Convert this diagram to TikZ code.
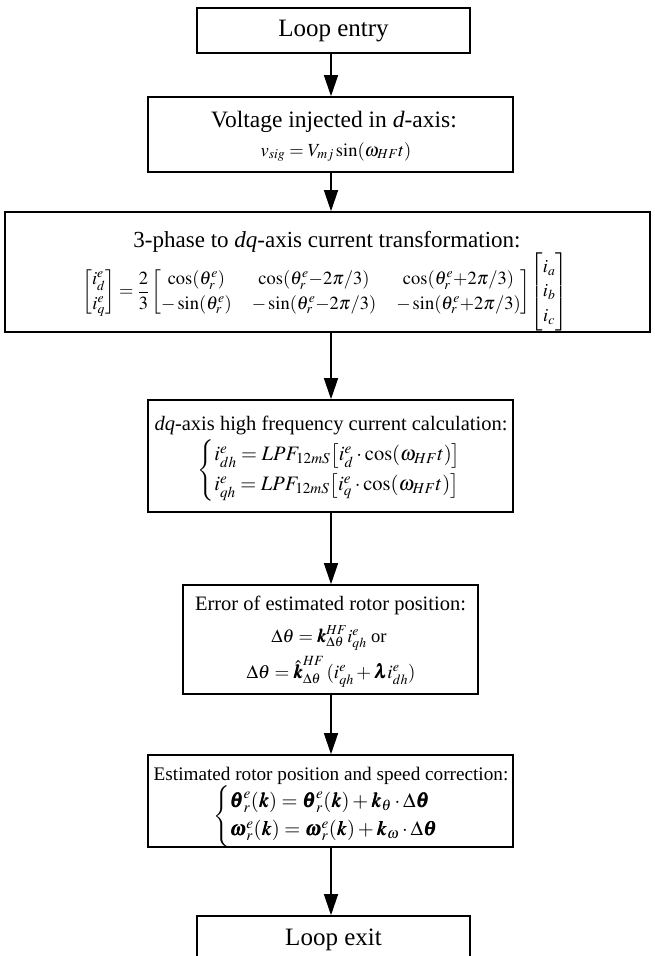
\documentclass[tikz,border=0pt]{standalone}
\usepackage{amsmath}
\usepackage{mathptmx}
\usepackage{bm}
\usepackage{fontspec}
\setmainfont{Liberation Serif}
\usetikzlibrary{arrows.meta}
\newcommand\fsz[2]{\fontsize{#1}{#2}\selectfont}
\begin{document}
\begin{tikzpicture}[x=1pt,y=-1pt,
  box/.style={draw, line width=1.6pt, inner sep=0pt},
  arr/.style={line width=1.4pt, -{Triangle[length=21pt,width=14pt]}},
  lbl/.style={inner sep=0pt, align=center}]
\useasboundingbox (0,0) rectangle (654,956);
\clip (0,0) rectangle (654,956);
\fill[white] (0,0) rectangle (654,956);
\coordinate (ax) at (331,0);
% boxes
\node[box, minimum width=273pt, minimum height=45pt] (b1) at (333.5,30.5) {};
\node[box, minimum width=365pt, minimum height=75pt] (b2) at (330.5,134.5) {};
\node[box, minimum width=645pt, minimum height=120pt] (b3) at (327.5,272) {};
\node[box, minimum width=365pt, minimum height=112pt] (b4) at (330.5,456) {};
\node[box, minimum width=295pt, minimum height=109pt] (b5) at (330.5,639.5) {};
\node[box, minimum width=365pt, minimum height=92pt] (b6) at (330.5,801) {};
\node[box, minimum width=273pt, minimum height=84pt] (b7) at (333.5,958) {};
% texts
\node[lbl] (t1) at (333.5,31) {\fsz{25}{30}Loop entry};
\node[lbl] (t2a) at (334,122) {\fsz{23.5}{28}Voltage injected in \textit{d}-axis:};
\node[lbl] (t2b) at (336,152) {\fsz{18.5}{22}$v_{sig} = V_{mj}\sin(\omega_{HF}t)$};
\node[lbl] (t3a) at (327,242) {\fsz{23}{28}3-phase to \textit{dq}-axis current transformation:};
\node[lbl] (t3b) at (325,292) {\fsz{18.5}{24.5}\setlength{\arraycolsep}{10pt}$\begin{bmatrix} i_d^e\\ i_q^e\end{bmatrix} = \dfrac{2}{3}\begin{bmatrix} \cos(\theta_r^e) & \cos(\theta_r^e{-}2\pi/3) & \cos(\theta_r^e{+}2\pi/3)\\ -\sin(\theta_r^e) & -\sin(\theta_r^e{-}2\pi/3) & -\sin(\theta_r^e{+}2\pi/3)\end{bmatrix}\!\begin{bmatrix} i_a\\ i_b\\ i_c\end{bmatrix}$};
\node[lbl] (t4a) at (331,425) {\fsz{20.5}{24}\textit{dq}-axis high frequency current calculation:};
\node[lbl] (t4b) at (340,470) {\fsz{20.5}{25}$\begin{cases} i_{dh}^e = LPF_{12mS}\!\left[i_d^e\cdot\cos(\omega_{HF}t)\right]\\ i_{qh}^e = LPF_{12mS}\!\left[i_q^e\cdot\cos(\omega_{HF}t)\right]\end{cases}$};
\node[lbl] (t5a) at (330.5,605) {\fsz{20.5}{25}Error of estimated rotor position:};
\node[lbl] (t5b) at (329,638) {\fsz{18.5}{22}$\Delta\theta = \bm{k}_{\Delta\theta}^{HF} i_{qh}^e$ or};
\node[lbl] (t5c) at (331,672) {\fsz{19}{23}$\Delta\theta = \hat{\bm{k}}_{\Delta\theta}^{HF}\,(i_{qh}^e + \bm{\lambda} i_{dh}^e)$};
\node[lbl] (t6a) at (331,776) {\fsz{19.2}{23}Estimated rotor position and speed correction:};
\node[lbl] (t6b) at (336,816) {\fsz{20.5}{23.5}$\begin{cases} \bm{\theta}_r^e(\bm{k}) = \bm{\theta}_r^e(\bm{k}) + \bm{k}_{\theta}\cdot\Delta\bm{\theta}\\ \bm{\omega}_r^e(\bm{k}) = \bm{\omega}_r^e(\bm{k}) + \bm{k}_{\omega}\cdot\Delta\bm{\theta}\end{cases}$};
\node[lbl] (t7) at (333.5,940) {\fsz{25}{30}Loop exit};
% arrows
\draw[arr] (b1.south -| ax) -- (b2.north -| ax);
\draw[arr] (b2.south -| ax) -- (b3.north -| ax);
\draw[arr] (b3.south -| ax) -- (b4.north -| ax);
\draw[arr] (b4.south -| ax) -- (b5.north -| ax);
\draw[arr] (b5.south -| ax) -- (b6.north -| ax);
\draw[arr] (b6.south -| ax) -- (b7.north -| ax);
\end{tikzpicture}
\end{document}
